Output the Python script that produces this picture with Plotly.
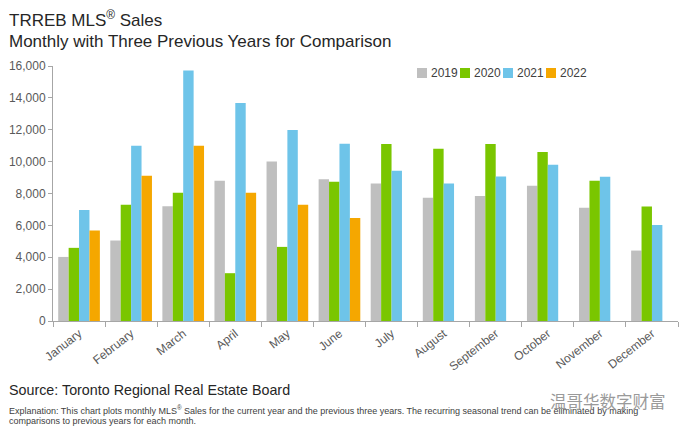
import plotly.graph_objects as go

months = ["January", "February", "March", "April", "May", "June", "July",
          "August", "September", "October", "November", "December"]
sales_2019 = [4020, 5050, 7200, 8800, 10010, 8900, 8630, 7730, 7850, 8480, 7100, 4420]
sales_2020 = [4590, 7290, 8040, 3000, 4650, 8730, 11100, 10810, 11100, 10600, 8800, 7180]
sales_2021 = [6970, 11000, 15710, 13680, 11980, 11120, 9420, 8630, 9070, 9800, 9050, 6030]
sales_2022 = [5680, 9110, 11000, 8040, 7290, 6470, None, None, None, None, None, None]

series = [("2019", sales_2019, "#BFBFBF"), ("2020", sales_2020, "#7AC600"),
          ("2021", sales_2021, "#6EC4E9"), ("2022", sales_2022, "#F5A700")]

FONT = "Liberation Sans, Arial, sans-serif"

fig = go.Figure()
for name, vals, col in series:
    fig.add_trace(go.Bar(x=months, y=vals, name=name, marker_color=col,
                         marker_line_width=0, showlegend=False))

L, R, T, B = 53, 678, 66.3, 321
W, H = R - L, B - T
def px(X): return (X - L) / W
def py(Y): return (B - Y) / H

annos = [
    dict(text="TRREB MLS<sup>®</sup> Sales", x=px(7), y=py(19), font=dict(size=17, color="#262626")),
    dict(text="Monthly with Three Previous Years for Comparison", x=px(7), y=py(42), font=dict(size=17, color="#262626")),
    dict(text="Source: Toronto Regional Real Estate Board", x=px(6.5), y=py(390), font=dict(size=14.3, color="#262626")),
    dict(text="Explanation: This chart plots monthly MLS<sup>®</sup> Sales for the current year and the previous three years. The recurring seasonal trend can be eliminated by making",
         x=px(7), y=py(410), font=dict(size=9, color="#404040")),
    dict(text="comparisons to previous years for each month.", x=px(7), y=py(421), font=dict(size=9, color="#404040")),
    dict(text="温哥华数字财富", x=px(548), y=py(401), font=dict(size=16.5, color="#9a9a9a", family="Noto Sans CJK SC")),
]

# manual legend (compact, like the reference)
shapes = []
for i, (name, vals, col) in enumerate(series):
    x0 = 417 + 43 * i
    shapes.append(dict(type="rect", xref="paper", yref="paper",
                       x0=px(x0), x1=px(x0 + 10), y0=py(78.3), y1=py(68.3),
                       fillcolor=col, line=dict(width=0)))
    annos.append(dict(text=name, x=px(x0 + 12), y=py(73.3),
                      font=dict(size=12, color="#404040")))

fig.update_layout(annotations=[dict(a, xref="paper", yref="paper", xanchor="left",
                                    yanchor="middle", showarrow=False) for a in annos],
                  shapes=shapes)

fig.update_layout(
    width=690, height=435,
    margin=dict(l=L, r=690 - R, t=T, b=435 - B, pad=0, autoexpand=False),
    paper_bgcolor="white", plot_bgcolor="white",
    font=dict(family=FONT, color="#595959", size=12),
    barmode="group", bargap=0.2, bargroupgap=0,
    showlegend=False,
    xaxis=dict(showline=True, linecolor="#A6A6A6", linewidth=1, ticks="outside",
               tickson="boundaries", ticklen=5, tickcolor="#A6A6A6", tickangle=-38,
               showgrid=False, tickfont=dict(size=12, color="#595959")),
    yaxis=dict(range=[0, 16000], dtick=2000, tickformat=",", showline=True,
               linecolor="#A6A6A6", linewidth=1, ticks="outside", ticklen=4,
               tickcolor="#A6A6A6", showgrid=False, zeroline=False,
               tickfont=dict(size=12, color="#595959")),
)

fig.write_html("out.html")
